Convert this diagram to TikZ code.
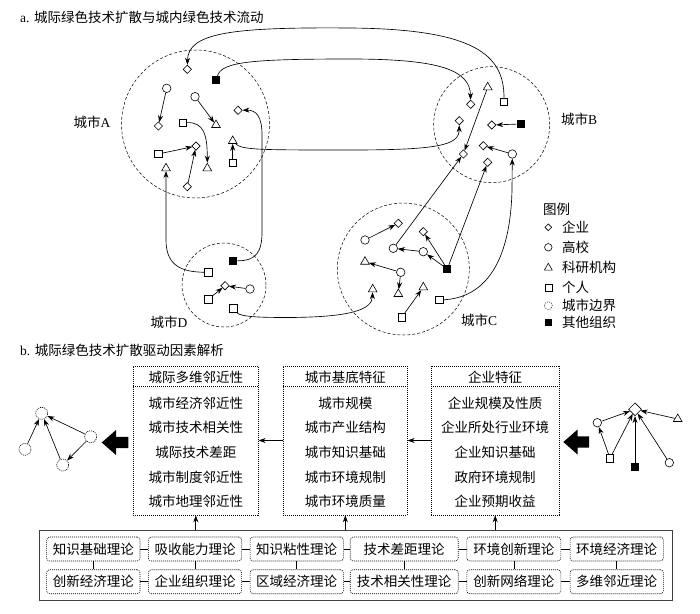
\documentclass[tikz,border=0pt]{standalone}
\usepackage{fontspec}
\setmainfont{Liberation Serif}
\newfontfamily\cjk{Noto Sans CJK SC}
\usetikzlibrary{shapes.geometric,arrows.meta}
\begin{document}
\begin{tikzpicture}[x=1pt,y=-1pt,
  every node/.style={inner sep=0pt},
  arr/.style={draw, line width=0.65pt, -{Stealth[length=7pt,width=5pt]}},
  ln/.style={draw, line width=0.6pt},
  dia/.style={diamond, draw, line width=0.6pt, fill=white, minimum width=8.5pt, minimum height=8.5pt},
  cir/.style={circle, draw, line width=0.6pt, fill=white, minimum size=8.5pt},
  tri/.style={regular polygon, regular polygon sides=3, draw, line width=0.6pt, fill=white, minimum size=10pt},
  sqr/.style={rectangle, draw, line width=0.6pt, fill=white, minimum size=7.5pt},
  bsq/.style={rectangle, fill=black, minimum size=8pt},
  city/.style={circle, draw, dash pattern=on 3pt off 2pt, line width=0.5pt},
  lab/.style={font=\fontsize{13.5}{16}\selectfont\cjk},
  latin/.style={font=\fontsize{13.5}{16}\selectfont},
  fbox/.style={draw, line width=0.6pt, dash pattern=on 1pt off 1pt},
  tbox/.style={draw, line width=0.6pt, dash pattern=on 1pt off 1pt, rounded corners=3pt, minimum height=24pt},
  ndot/.style={circle, draw, line width=0.6pt, dash pattern=on 1pt off 1pt, minimum size=12pt}
]
\useasboundingbox (0,0) rectangle (700,613);

% ---------- titles ----------
\node[latin, anchor=west] (ta) at (20,17) {a. {\cjk 城际绿色技术扩散与城内绿色技术流动}};
\node[latin, anchor=west] (tb) at (20,350) {b. {\cjk 城际绿色技术扩散驱动因素解析}};

% ---------- city circles ----------
\node[city, minimum size=148pt] (cityA) at (195.5,124) {};
\node[city, minimum size=116pt] (cityB) at (491.7,124.7) {};
\node[city, minimum size=132pt] (cityC) at (403.3,269) {};
\node[city, minimum size=84pt] (cityD) at (224,285) {};

\node[latin] (labA) at (92,122) {{\cjk 城市}A};
\node[latin] (labB) at (579,119) {{\cjk 城市}B};
\node[latin] (labC) at (479,320) {{\cjk 城市}C};
\node[latin] (labD) at (169,322) {{\cjk 城市}D};

% ---------- city A ----------
\node[dia] (dA1) at (187.3,69.3) {};
\node[bsq] (bA) at (216,80) {};
\node[cir] (cA1) at (166.7,88.3) {};
\node[cir] (cA2) at (195,96.7) {};
\node[dia] (dA2) at (238,110.3) {};
\node[dia] (dA3) at (158.3,126) {};
\node[sqr] (sA1) at (182.7,122.7) {};
\node[tri] (tA1) at (216,125) {};
\node[tri] (tA2) at (232.7,141) {};
\node[sqr] (sA2) at (158.3,154) {};
\node[dia] (dA4) at (196,146) {};
\node[sqr] (sA3) at (232.7,162.7) {};
\node[tri] (tA3) at (166,168.3) {};
\node[tri] (tA4) at (207.3,168.3) {};
\node[dia] (dA5) at (187.3,186.7) {};

\draw[arr] (cA1) -- (dA3);
\draw[arr] (cA2) -- (tA1);
\draw[arr] (sA1) .. controls (204,122) and (207.3,135) .. (tA4);
\draw[arr] (sA2) -- (dA4);
\draw[arr] (dA5) -- (dA4);
\draw[arr] (sA3) -- (tA2);

% ---------- city B ----------
\node[tri] (tB) at (487.7,87.3) {};
\node[sqr] (sB) at (504,101.7) {};
\node[dia] (dB1) at (470.7,104.3) {};
\node[dia] (dB2) at (459.3,120.7) {};
\node[dia] (dB3) at (491.7,125) {};
\node[bsq] (bB) at (520.7,124) {};
\node[dia] (dB4) at (483.3,145.7) {};
\node[cir] (cB) at (512.3,154) {};
\node[dia] (dB5) at (463.3,154) {};
\node[dia] (dB6) at (487.7,162.3) {};

\draw[arr] (bB) -- (dB3);
\draw[arr] (cB) -- (dB4);
\draw[arr] (tB) -- (dB5);

% ---------- city C ----------
\node[dia] (dC1) at (398.3,223.3) {};
\node[cir] (cC1) at (365,240) {};
\node[dia] (dC2) at (423.3,231.7) {};
\node[cir] (cC2) at (393.3,248.3) {};
\node[cir] (cC3) at (423.3,251.7) {};
\node[bsq] (bC) at (447.3,269) {};
\node[tri] (tC1) at (365,261.7) {};
\node[cir] (cC4) at (400.7,272.3) {};
\node[tri] (tC2) at (372.7,289.3) {};
\node[tri] (tC3) at (398.3,294) {};
\node[tri] (tC4) at (423.3,287.3) {};
\node[sqr] (sC1) at (439.3,300) {};
\node[sqr] (sC2) at (401.7,317.3) {};

\draw[arr] (cC1) -- (dC1);
\draw[arr] (bC) -- (dC2);
\draw[arr] (bC) -- (cC3);
\draw[arr] (cC3) -- (cC2);
\draw[arr] (cC4) -- (tC1);
\draw[arr] (cC4) -- (tC3);
\draw[arr] (sC2) -- (tC4);

% ---------- city D ----------
\node[bsq] (bD) at (233.3,260.7) {};
\node[sqr] (sD1) at (208.3,272.3) {};
\node[dia] (dD) at (225,285.7) {};
\node[cir] (cD) at (250,289) {};
\node[sqr] (sD2) at (208.3,299.3) {};
\node[sqr] (sD3) at (233.3,308.3) {};

\draw[arr] (cD) -- (dD);
\draw[arr] (sD2) -- (dD);

% ---------- inter-city flows ----------
\draw[arr] (sB) .. controls (504,55) and (475,29) .. (350,28) .. controls (230,27) and (188,33) .. (dA1);
\draw[arr] (bA) .. controls (222,62) and (250,59) .. (350,59) .. controls (440,59) and (470,70) .. (dB1);
\draw[arr] (tA2) .. controls (242,150) and (260,150) .. (350,150) .. controls (440,150) and (459,145) .. (dB2);
\draw[arr] (bD) .. controls (256,261) and (262,252) .. (262,232) -- (262,135) .. controls (262,116) and (256,110) .. (dA2);
\draw[arr] (sD1) .. controls (182,272) and (166,266) .. (166,240) -- (tA3);
\draw[arr] (sD3) .. controls (240,317) and (260,317.5) .. (290,317.5) .. controls (350,317) and (372,310) .. (tC2);
\draw[arr] (sC1) .. controls (480,298) and (510,270) .. (512,190) -- (cB);
\draw[arr] (cC2) -- (dB5);
\draw[arr] (bC) -- (dB6);

% ---------- legend ----------
\node[lab, anchor=west] (lgT) at (543,209.3) {图例};
\node[dia, minimum width=7pt, minimum height=7pt] (lg1) at (548.3,227.3) {};
\node[cir, minimum size=7.5pt] (lg2) at (548.3,247.3) {};
\node[tri, minimum size=9pt] (lg3) at (548.3,267.8) {};
\node[sqr, minimum size=7pt] (lg4) at (548.3,287.3) {};
\node[circle, draw, line width=0.5pt, dash pattern=on 1pt off 1.2pt, minimum size=8pt] (lg5) at (548.3,305.7) {};
\node[bsq, minimum size=7.5pt] (lg6) at (548.3,322.3) {};
\node[lab, anchor=west] (lgt1) at (562,227.3) {企业};
\node[lab, anchor=west] (lgt2) at (562,247.3) {高校};
\node[lab, anchor=west] (lgt3) at (562,267.3) {科研机构};
\node[lab, anchor=west] (lgt4) at (562,287.3) {个人};
\node[lab, anchor=west] (lgt5) at (562,305.7) {城市边界};
\node[lab, anchor=west] (lgt6) at (562,322.3) {其他组织};

% ---------- part b: factor boxes ----------
\node[fbox, minimum width=125pt, minimum height=149pt] (b1) at (195.8,440.5) {};
\node[fbox, minimum width=124pt, minimum height=149pt] (b2) at (345.3,440.5) {};
\node[fbox, minimum width=128.3pt, minimum height=149pt] (b3) at (495.2,440.5) {};
\draw[line width=0.6pt, dash pattern=on 1pt off 1pt] (b1.west |- 0,386.7) -- (b1.east |- 0,386.7);
\draw[line width=0.6pt, dash pattern=on 1pt off 1pt] (b2.west |- 0,386.7) -- (b2.east |- 0,386.7);
\draw[line width=0.6pt, dash pattern=on 1pt off 1pt] (b3.west |- 0,386.7) -- (b3.east |- 0,386.7);

\node[lab] (h1) at (195.8,377.2) {城际多维邻近性};
\node[lab] (i11) at (195.8,403) {城市经济邻近性};
\node[lab] (i12) at (195.8,427.7) {城市技术相关性};
\node[lab] (i13) at (195.8,452.3) {城际技术差距};
\node[lab] (i14) at (195.8,477) {城市制度邻近性};
\node[lab] (i15) at (195.8,501.7) {城市地理邻近性};

\node[lab] (h2) at (345.3,377.2) {城市基底特征};
\node[lab] (i21) at (345.3,403) {城市规模};
\node[lab] (i22) at (345.3,427.7) {城市产业结构};
\node[lab] (i23) at (345.3,452.3) {城市知识基础};
\node[lab] (i24) at (345.3,477) {城市环境规制};
\node[lab] (i25) at (345.3,501.7) {城市环境质量};

\node[lab] (h3) at (495.2,377.2) {企业特征};
\node[lab] (i31) at (495.2,403) {企业规模及性质};
\node[lab] (i32) at (495.2,427.7) {企业所处行业环境};
\node[lab] (i33) at (495.2,452.3) {企业知识基础};
\node[lab] (i34) at (495.2,477) {政府环境规制};
\node[lab] (i35) at (495.2,501.7) {企业预期收益};

\draw[arr] (b2.west) -- (b1.east);
\draw[arr] (b3.west) -- (b2.east);

% big black arrows
\fill (101.7,442.5) -- (116,430) -- (116,436.8) -- (128.3,436.8) -- (128.3,448.2) -- (116,448.2) -- (116,455) -- cycle;
\fill (563.3,442) -- (577.6,429.5) -- (577.6,436.3) -- (589,436.3) -- (589,447.7) -- (577.6,447.7) -- (577.6,454.5) -- cycle;

% left small network
\node[ndot] (n1) at (41.7,413.3) {};
\node[ndot] (n2) at (90.7,436.7) {};
\node[ndot] (n3) at (25,449.3) {};
\node[ndot] (n4) at (62.7,465) {};
\draw[arr] (n3) -- (n1);
\draw[arr] (n4) -- (n1);
\draw[arr] (n2) -- (n1);
\draw[arr] (n2) -- (n4);

% right small network
\node[dia, minimum width=13pt, minimum height=13pt] (m1) at (635,409.3) {};
\node[cir] (m2) at (597.3,422.7) {};
\node[tri] (m3) at (677.7,419) {};
\node[sqr] (m4) at (610,458.3) {};
\node[bsq] (m5) at (635,466.7) {};
\node[cir] (m6) at (669.3,462.7) {};
\draw[arr] (m2) -- (m1);
\draw[arr] (m3) -- (m1);
\draw[arr] (m4) -- (m1);
\draw[arr] (m5) -- (m1);
\draw[arr] (m6) -- (m1);
\draw[arr] (m4) -- (m2);

% ---------- theory panel ----------
\node[draw=black!75, line width=0.8pt, minimum width=633.4pt, minimum height=69.3pt] (th) at (356,565.35) {};
\draw[arr] (b1.south |- th.north) -- (b1.south);
\draw[arr] (b2.south |- th.north) -- (b2.south);
\draw[arr] (b3.south |- th.north) -- (b3.south);

\node[tbox, lab, minimum width=93.3pt] (t11) at (93.3,549) {知识基础理论};
\node[tbox, lab, minimum width=93.3pt] (t12) at (195,549) {吸收能力理论};
\node[tbox, lab, minimum width=93.3pt] (t13) at (296.7,549) {知识粘性理论};
\node[tbox, lab, minimum width=108pt] (t14) at (404.2,549) {技术差距理论};
\node[tbox, lab, minimum width=94pt] (t15) at (513.8,549) {环境创新理论};
\node[tbox, lab, minimum width=93.3pt] (t16) at (616.7,549) {环境经济理论};

\node[tbox, lab, minimum width=93.3pt] (t21) at (93.3,581.7) {创新经济理论};
\node[tbox, lab, minimum width=93.3pt] (t22) at (195,581.7) {企业组织理论};
\node[tbox, lab, minimum width=93.3pt] (t23) at (296.7,581.7) {区域经济理论};
\node[tbox, lab, minimum width=108pt] (t24) at (404.2,581.7) {技术相关性理论};
\node[tbox, lab, minimum width=94pt] (t25) at (513.8,581.7) {创新网络理论};
\node[tbox, lab, minimum width=93.3pt] (t26) at (616.7,581.7) {多维邻近理论};

\foreach \a/\b in {t11/t12,t12/t13,t13/t14,t14/t15,t15/t16,t21/t22,t22/t23,t23/t24,t24/t25,t25/t26}
  \draw[line width=0.5pt] (\a.east) -- (\b.west);
\foreach \c in {1,...,6}
  \draw[line width=0.5pt] (t1\c.south) -- (t2\c.north);
\end{tikzpicture}
\end{document}
